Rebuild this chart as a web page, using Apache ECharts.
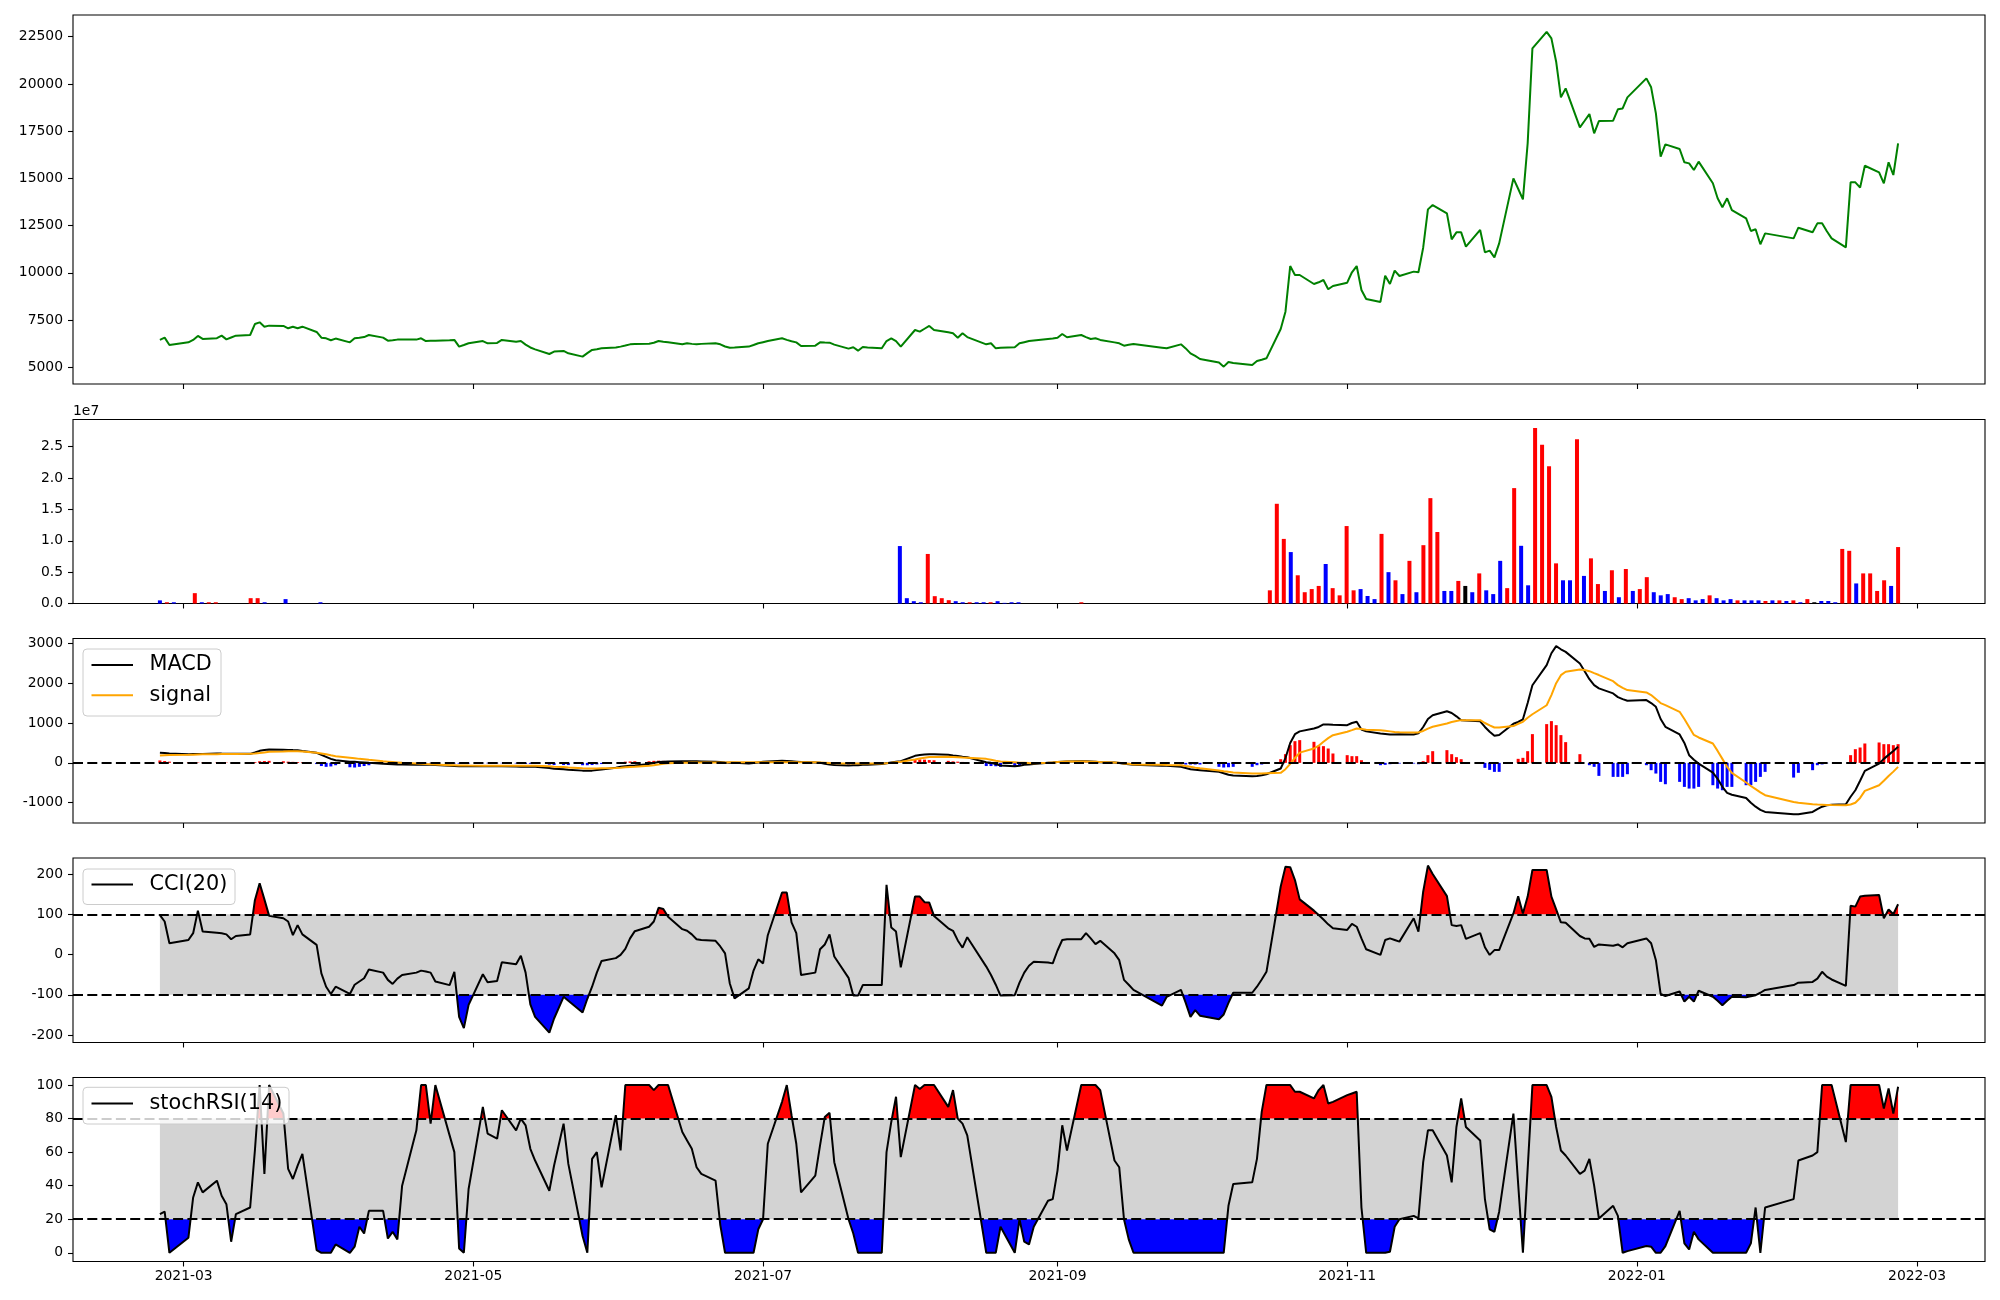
<!DOCTYPE html>
<html><head><meta charset="utf-8">
<script src="https://cdn.jsdelivr.net/npm/echarts@6/dist/echarts.min.js"></script>
<style>html,body{margin:0;padding:0;background:#fff}#c{width:2000px;height:1300px}</style>
</head><body><div id="c"></div>
<script>
// ---------------- DATA ----------------
const firstDay = '2021-02-24', lastDay = '2022-02-25';
const holidays = ['2021-03-01','2021-05-05','2021-05-19','2021-08-16','2021-09-20','2021-09-21','2021-09-22',
  '2021-10-04','2021-10-11','2021-12-31','2022-01-31','2022-02-01','2022-02-02'];
const xTickDates = ['2021-03-01','2021-05-01','2021-07-01','2021-09-01','2021-11-01','2022-01-01','2022-03-01'];
const priceTicks = [5000,7500,10000,12500,15000,17500,20000,22500];
const volTicks = [0,5e6,1e7,1.5e7,2e7,2.5e7];
const macdTicks = [-1000,0,1000,2000,3000];
const cciTicks = [-200,-100,0,100,200];
const stochTicks = [0,20,40,60,80,100];

const price = [
6450,6570,6180,6320,6450,6660,6500,6540,6675,6480,
6580,6675,6710,7290,7380,7150,7205,7190,7065,7150,
7065,7150,6870,6570,6535,6430,6520,6320,6535,6560,
6600,6710,6570,6410,6430,6465,6465,6465,6535,6390,
6400,6410,6430,6450,6095,6180,6270,6390,6270,6290,
6450,6350,6390,6200,6050,5950,5705,5830,5865,5740,
5565,5750,5920,5960,6005,6050,6095,6150,6215,6230,
6250,6300,6390,6350,6320,6215,6270,6240,6215,6240,
6270,6215,6100,6040,6050,6095,6180,6270,6330,6390,
6535,6450,6380,6320,6130,6145,6320,6310,6305,6200,
5990,6060,5880,6075,6050,6005,6390,6535,6390,6095,
6975,6890,7040,7190,6975,6850,6800,6570,6800,6600,
6215,6270,6005,6030,6060,6270,6330,6390,6420,6500,
6520,6560,6765,6590,6710,6600,6500,6535,6450,6320,
6270,6145,6190,6235,6040,6005,6215,6000,5740,5600,
5440,5250,5035,5280,5230,5125,5335,5400,5475,7030,
7945,10360,9885,9885,9410,9500,9620,9130,9305,9480,
10030,10360,9090,8615,8460,9850,9410,10115,9835,10065,
10030,11330,13360,13590,13150,11775,12145,12145,11385,12270,
11085,11175,10820,11560,15000,14450,13890,16855,21880,22760,
22410,21175,19290,19765,17700,18050,18405,17385,18035,18055,
18655,18705,19290,20295,19820,18440,16150,16800,16555,15850,
15795,15445,15885,14740,13945,13470,13945,13325,12885,12215,
12305,11510,12090,11825,12390,12145,12620,12620,12200,11825,
11350,14790,14790,14510,15670,15320,14740,15850,15180,16855];

const volume = [
500000,200000,200000,0,0,1650000,200000,200000,200000,0,
0,0,0,850000,850000,200000,0,0,700000,0,
0,0,0,200000,0,0,0,0,0,0,
0,0,0,0,0,0,0,0,0,0,
0,0,0,0,0,0,0,0,0,0,
0,0,0,0,0,0,0,0,0,0,
0,0,0,0,0,0,0,0,0,0,
0,0,0,0,0,0,0,0,0,0,
0,0,0,0,0,0,0,0,0,0,
0,0,0,0,0,0,0,0,0,0,
0,0,0,0,0,0,9160000,850000,370000,200000,
7900000,1170000,850000,530000,370000,200000,200000,200000,200000,200000,
370000,100000,200000,200000,0,0,0,0,0,0,
0,0,200000,0,0,0,0,0,0,0,
0,0,0,0,0,0,0,0,0,0,
0,0,0,0,0,0,0,0,0,2100000,
15900000,10300000,8200000,4500000,1800000,2300000,2800000,6300000,2450000,1300000,
12350000,2100000,2300000,1200000,700000,11100000,5000000,3700000,1500000,6800000,
1800000,9300000,16800000,11400000,2000000,2000000,3600000,2800000,1800000,4800000,
2100000,1500000,6800000,2450000,18400000,9200000,2900000,28000000,25300000,21900000,
6400000,3700000,3700000,26200000,4400000,7200000,3100000,2000000,5300000,1000000,
5500000,2000000,2300000,4200000,1800000,1300000,1500000,1000000,700000,850000,
500000,700000,1300000,850000,500000,700000,500000,500000,500000,500000,
400000,500000,500000,400000,500000,200000,700000,200000,400000,400000,
200000,8700000,8400000,3200000,4800000,4800000,2000000,3700000,2800000,9000000];
// bars drawn red (up) / black (unchanged); all others blue
const volUpIdx = [1,5,7,8,13,14,110,111,112,113,116,119,132,159,160,161,163,164,165,166,168,169,170,171,175,177,179,
  181,182,183,186,189,193,194,197,198,199,200,203,205,206,208,210,212,213,217,218,222,226,230,232,234,236,241,242,244,245,246,247,249];
const volFlatIdx = [187,237];

const macd = [
251,245,235,218,220,222,225,235,232,230,
228,226,226,260,301,320,335,330,325,320,
318,300,251,200,150,100,67,30,25,18,
10,2,-20,-30,-38,-42,-44,-46,-48,-49,
-50,-52,-70,-78,-84,-84,-84,-84,-84,-84,
-85,-90,-95,-98,-100,-100,-130,-150,-159,-170,
-195,-201,-195,-180,-168,-120,-100,-85,-75,-65,
-30,-5,20,28,32,42,42,40,38,35,
25,20,12,5,0,-17,-5,10,25,35,
50,45,38,30,22,10,0,-20,-40,-55,
-67,-62,-58,-50,-45,-30,-10,10,25,40,
176,195,210,218,218,201,185,170,155,142,
15,0,-30,-67,-84,-70,-50,-42,-30,0,
8,20,28,35,42,40,35,25,15,8,
-5,-20,-35,-50,-70,-75,-100,-130,-160,-175,
-184,-226,-260,-300,-318,-335,-330,-310,-285,-142,
120,500,720,790,863,900,963,960,955,946,
1000,1030,838,790,737,725,712,712,715,713,
740,900,1100,1194,1294,1250,1168,1068,1060,1043,
900,780,680,700,980,1026,1093,1500,1948,2450,
2750,2928,2850,2785,2492,2300,2100,1950,1868,1742,
1650,1600,1558,1575,1500,1407,1100,905,712,500,
193,80,-17,-243,-400,-600,-754,-800,-880,-1000,
-1100,-1180,-1231,-1290,-1290,-1231,-1160,-1100,-1064,-1050,
-1039,-850,-687,-450,-201,-17,100,200,300,402];

const signal = [
184,190,196,202,206,210,214,218,220,222,
224,225,226,235,248,262,276,285,290,293,
292,285,251,235,215,190,168,130,115,100,
90,75,40,30,20,10,0,-17,-22,-28,
-33,-40,-59,-62,-65,-67,-69,-72,-73,-75,
-75,-75,-75,-75,-75,-75,-85,-95,-105,-115,
-135,-140,-142,-140,-135,-126,-120,-112,-105,-100,
-70,-59,-40,-25,-10,0,5,8,8,8,
8,10,12,14,15,16,17,17,17,17,
17,17,17,17,17,15,12,5,-5,-12,
-17,-17,-17,-17,-17,-17,-10,0,15,30,
84,110,130,145,150,151,148,140,132,126,
100,80,55,35,15,5,0,-5,-8,0,
10,20,28,32,34,33,30,25,20,10,
0,-15,-25,-42,-50,-55,-59,-80,-100,-120,
-135,-190,-210,-226,-240,-265,-268,-265,-260,-251,
-159,-27,122,256,360,430,530,620,695,779,
820,863,850,830,820,805,790,775,765,764,
764,800,860,906,989,1025,1050,1072,1072,1072,
1000,940,888,890,922,980,1030,1130,1220,1445,
1700,2000,2200,2287,2345,2330,2300,2250,2203,2050,
1950,1880,1826,1767,1700,1600,1500,1449,1281,1100,
900,700,637,486,300,100,-100,-250,-494,-580,
-660,-740,-812,-980,-1000,-1040,-1047,-1050,-1055,-1060,
-1064,-1045,-1000,-880,-704,-561,-450,-330,-220,-100];

const macdHist = [
60,45,30,15,12,10,8,12,12,8,
4,1,0,20,40,45,50,40,30,25,
20,15,-30,-80,-100,-90,-60,-110,-117,-100,
-80,-60,-20,-10,-5,0,-5,-20,-25,-20,
-15,-10,-10,-15,-20,-15,-15,-10,-10,-10,
-10,-15,-20,-25,-25,-25,-45,-55,-55,-55,
-60,-60,-55,-40,-30,0,20,30,35,40,
40,50,55,50,40,40,35,30,30,25,
15,10,0,-10,-15,-30,-20,-5,10,20,
35,30,20,15,5,-5,-10,-25,-35,-45,
-50,-45,-40,-35,-30,-15,0,10,10,10,
90,85,80,70,65,50,37,30,23,16,
-80,-80,-85,-100,-100,-75,-50,-35,-22,0,
0,0,0,5,8,8,5,0,-5,-2,
-5,-5,-10,-10,-20,-20,-40,-42,-42,-42,
-42,-100,-117,-110,-100,-100,-59,-42,-20,92,
218,444,544,570,528,419,419,360,235,193,
168,168,67,0,-59,-50,-34,-25,-17,-17,
-34,42,193,293,319,218,143,92,0,0,
-126,-176,-226,-226,0,101,126,293,721,972,
1047,946,696,520,218,0,-59,-100,-327,-352,
-352,-352,-285,-59,-184,-268,-477,-536,-477,-603,
-645,-645,-603,-561,-645,-687,-603,-603,-561,-561,
-477,-352,-226,-369,-250,-184,-59,-40,-10,0,
0,193,343,385,486,511,469,469,444,469];

const cci = [
98,82,28,36,53,109,57,54,53,50,
38,46,50,135,177,137,96,90,82,48,
73,50,24,-47,-80,-98,-80,-98,-75,-67,
-59,-37,-45,-63,-73,-60,-51,-45,-40,-42,
-45,-67,-76,-43,-155,-183,-125,-49,-69,-66,
-19,-24,-3,-45,-124,-155,-194,-159,-105,-115,
-144,-110,-80,-45,-16,-9,-1,14,40,58,
69,82,116,113,94,63,59,50,38,36,
34,20,3,-72,-109,-84,-40,-12,-22,48,
154,154,80,53,-51,-45,13,25,50,-5,
-58,-102,-102,-76,-76,-76,173,67,57,-32,
144,144,130,129,96,65,59,35,17,43,
-30,-51,-75,-102,-101,-70,-45,-28,-18,-20,
-22,10,36,38,38,53,40,26,34,3,
-14,-63,-75,-88,-127,-105,-88,-120,-155,-138,
-152,-161,-149,-120,-95,-95,-80,-62,-43,169,
218,217,185,137,109,98,87,75,65,61,
76,69,40,13,-1,36,40,36,32,90,
57,156,221,200,145,73,71,73,39,53,
18,-1,11,11,102,145,102,144,210,210,
144,112,80,79,46,40,39,19,25,22,
25,18,28,40,28,-14,-98,-103,-92,-117,
-105,-117,-90,-105,-115,-126,-115,-105,-106,-104,
-101,-95,-88,-76,-70,-68,-60,-43,-55,-62,
-78,121,119,144,146,148,90,112,100,125];

const stochRsi = [
23,24.5,0,9,33,42,36,43,34,29,
6.6,23,27,61,100,47,100,83,50,44,
52,59,1.6,0,0,0,5,0,3.6,15.5,
11.5,25,25,8.5,12.5,8,40,73,100,100,
77,100,70,60,2.6,0,38,87,71,68,
85,73,80,76,62,55,37,52,77,53,
10,0,56,60,39,82,61,100,100,100,
100,97,100,100,100,72,67,62,51,47,
43,16.5,0,0,0,0,0,14,20,65,
90,100,82,65,36,46,64,81,83.5,54,
20,11.5,0,0,0,0,60,78,93,57,
100,97.6,100,100,100,87,97,80,77,70,
0,0,0,15.5,0,20,6.6,5,15.5,31,
32,49,76,61,100,100,100,100,97,55,
51,20,8,0,0,0,0,0,0,0,
0,0,0,28,41,42,56,84,100,100,
100,100,96,96,92,97,100,89,90,94,
95,96,27,0,0,0,0.6,15.5,20,22,
20.5,54,73,73,58,42,75,92,75,67,
32,14,12.5,24.5,83,41,0,50,100,100,
93,75,61,58,47,49,56,40,20.5,28,
22,0,1,4,3.6,0,0,4,25,5.6,
2,12.5,8,0,0,0,0,0,0,5.6,
27,0,27,32,55,58,60,100,100,100,
66,100,100,100,100,100,86,98,83,99];

// ---------------- BUILD ----------------
const DAY = 86400000;
function utc(s){const p=s.split('-').map(Number);return Date.UTC(p[0],p[1]-1,p[2]);}
const hol = new Set(holidays.map(utc));
const dates = [];
for (let t = utc(firstDay); t <= utc(lastDay); t += DAY) {
  const wd = new Date(t).getUTCDay();
  if (wd === 0 || wd === 6 || hol.has(t)) continue;
  dates.push(t);
}
const N = dates.length;
if ([price,volume,macd,signal,macdHist,cci,stochRsi].some(a => a.length !== N)) console.warn('length mismatch', N);
const t0 = dates[0], t1 = dates[N-1], span = t1 - t0;
const xMin = t0 - 0.05*span, xMax = t1 + 0.05*span;
const xTicks = xTickDates.map(utc);
const pair = arr => dates.map((t,i) => [t, arr[i]]);
const volUp = new Set(volUpIdx), volFlat = new Set(volFlatIdx);
const volData = volume.map((v,i) => [t0 + i*span/(N-1), v]);

const FONT = 'DejaVu Sans';
function fmtDate(v){const d=new Date(v);return d.getUTCFullYear()+'-'+String(d.getUTCMonth()+1).padStart(2,'0');}

const gridsPx = [[15,384],[419.5,603.5],[638.5,823],[858,1042.5],[1077.5,1261.5]];
const grid = gridsPx.map(g => ({left:73, right:15, top:g[0], height:g[1]-g[0], show:true,
  borderColor:'#000', borderWidth:1.1, backgroundColor:'rgba(0,0,0,0)', containLabel:false}));

const xAxis = gridsPx.map((g,i) => ({type:'value', gridIndex:i, min:xMin, max:xMax, position:'bottom',
  axisLine:{show:false, onZero:false}, splitLine:{show:false},
  axisTick:{show:true, inside:false, length:5, lineStyle:{color:'#000', width:1.1}, customValues:xTicks},
  axisLabel:{show:i===4, customValues:xTicks, formatter:fmtDate, fontFamily:FONT, fontSize:13.9, color:'#000', margin:8}}));

function yAx(i, min, max, ticks, fmt){
  return {type:'value', gridIndex:i, min:min, max:max, position:'left',
    axisLine:{show:false, onZero:false}, splitLine:{show:false},
    axisTick:{show:true, length:5, lineStyle:{color:'#000', width:1.1}, customValues:ticks},
    axisLabel:{customValues:ticks, formatter:fmt, fontFamily:FONT, fontSize:13.9, color:'#000', margin:10}};
}
const yAxis = [
  yAx(0, 4116, 23649, priceTicks, v => String(v)),
  yAx(1, 0, 2.934e7, volTicks, v => (v/1e7).toFixed(1)),
  yAx(2, -1509, 3120, macdTicks, v => String(v)),
  yAx(3, -218.6, 239.8, cciTicks, v => String(v)),
  yAx(4, -5.2, 104.5, stochTicks, v => String(v))
];

const dash = {color:'#000', width:2.2, type:[10,4.3]};
function hLines(gi, vals, data){
  return {type:'line', xAxisIndex:gi, yAxisIndex:gi, data:data, symbol:'none', silent:true, z:6,
    lineStyle:{opacity:0, width:0},
    markLine:{silent:true, symbol:['none','none'], label:{show:false}, lineStyle:dash,
      data: vals.map(v => ({yAxis:v}))}};
}
function bandSeries(gi, lo, hi, data){
  return {type:'line', xAxisIndex:gi, yAxisIndex:gi, data:data, symbol:'none', silent:true, z:1,
    lineStyle:{opacity:0, width:0},
    markArea:{silent:true, itemStyle:{color:'#d3d3d3', opacity:1},
      data:[[{xAxis:t0, yAxis:lo},{xAxis:t1, yAxis:hi}]]}};
}
// filled region between the series line and a threshold, drawn through the axis scales
function fillSeries(gi, arr, thr, above, color){
  return {type:'custom', xAxisIndex:gi, yAxisIndex:gi, data:[[t0, thr]], silent:true, z:2,
    renderItem: function(params, api){
      const pts = dates.map((t,i) => api.coord([t, arr[i]]));
      const yT = api.coord([t0, thr])[1];
      const cond = v => above ? v > thr : v < thr;
      const polys = []; let cur = null;
      const cross = i => { const a = arr[i-1], b = arr[i]; const f = (thr - a)/(b - a);
        return [pts[i-1][0] + f*(pts[i][0]-pts[i-1][0]), yT]; };
      for (let i = 0; i < N; i++) {
        if (cond(arr[i])) {
          if (!cur) { cur = [i > 0 ? cross(i) : [pts[0][0], yT]]; }
          cur.push(pts[i]);
        } else if (cur) { cur.push(cross(i)); polys.push(cur); cur = null; }
      }
      if (cur) { cur.push([pts[N-1][0], yT]); polys.push(cur); }
      return {type:'group', children: polys.map(p => ({type:'polygon', shape:{points:p}, style:{fill:color}}))};
    }};
}
const blackLine = (gi, data) => ({type:'line', xAxisIndex:gi, yAxisIndex:gi, data:data, symbol:'none',
  lineStyle:{color:'#000', width:2}, z:4});

const cciD = pair(cci), stD = pair(stochRsi);
const series = [
  {type:'line', name:'price', xAxisIndex:0, yAxisIndex:0, data:pair(price), symbol:'none', lineStyle:{color:'#008000', width:2}, z:3},
  {type:'bar', name:'volume', xAxisIndex:1, yAxisIndex:1, data:volData, barWidth:4,
    itemStyle:{color: p => volFlat.has(p.dataIndex) ? '#000' : (volUp.has(p.dataIndex) ? '#ff0000' : '#0000ff')}},
  {type:'bar', name:'hist', xAxisIndex:2, yAxisIndex:2, data:pair(macdHist), barWidth:3,
    itemStyle:{color: p => p.value[1] >= 0 ? '#ff0000' : '#0000ff'}, z:2},
  {type:'line', name:'MACD', xAxisIndex:2, yAxisIndex:2, data:pair(macd), symbol:'none', lineStyle:{color:'#000', width:2}, z:3},
  {type:'line', name:'signal', xAxisIndex:2, yAxisIndex:2, data:pair(signal), symbol:'none', lineStyle:{color:'#ffa500', width:2}, z:4},
  hLines(2, [0], pair(macd)),
  bandSeries(3, -100, 100, cciD),
  fillSeries(3, cci, 100, true, '#ff0000'),
  fillSeries(3, cci, -100, false, '#0000ff'),
  blackLine(3, cciD),
  hLines(3, [100,-100], cciD),
  bandSeries(4, 20, 80, stD),
  fillSeries(4, stochRsi, 80, true, '#ff0000'),
  fillSeries(4, stochRsi, 20, false, '#0000ff'),
  blackLine(4, stD),
  hLines(4, [80,20], stD)
];

function legendBox(x, y, w, h, items){
  const Z = 100;
  const ch = [{type:'rect', z:Z, shape:{x:0, y:0, width:w, height:h, r:4},
    style:{fill:'rgba(255,255,255,0.8)', stroke:'#cccccc', lineWidth:1}}];
  items.forEach(it => {
    ch.push({type:'line', z:Z+1, shape:{x1:8.5, y1:it.cy, x2:50, y2:it.cy}, style:{stroke:it.color, lineWidth:2}});
    ch.push({type:'text', z:Z+1, x:66.5, y:it.cy, style:{text:it.name, font:'20.8px "DejaVu Sans"', fill:'#000',
      verticalAlign:'middle', align:'left'}});
  });
  return {type:'group', x:x, y:y, z:Z, children:ch};
}
const graphic = [
  {type:'text', x:73, y:411, z:100, style:{text:'1e7', font:'13.9px "DejaVu Sans"', fill:'#000', verticalAlign:'middle', align:'left'}},
  legendBox(83, 649, 138, 67, [{name:'MACD', color:'#000', cy:16},{name:'signal', color:'#ffa500', cy:46.3}]),
  legendBox(83, 869, 152, 35.5, [{name:'CCI(20)', color:'#000', cy:15.5}]),
  legendBox(83, 1087.3, 206, 36.7, [{name:'stochRSI(14)', color:'#000', cy:16.2}])
];

const chart = echarts.init(document.getElementById('c'), null, {renderer:'canvas'});
chart.setOption({animation:false, backgroundColor:'#fff', grid, xAxis, yAxis, series, graphic});
</script></body></html>
